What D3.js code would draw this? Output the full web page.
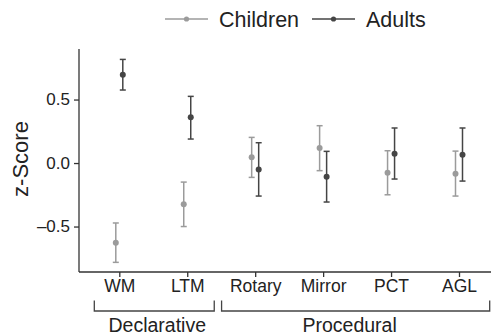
<!DOCTYPE html>
<html>
<head>
<meta charset="utf-8">
<script src="https://cdn.jsdelivr.net/npm/d3@7"></script>
<style>
  body { margin: 0; background: #fff; }
  text { font-family: "Liberation Sans", Arial, sans-serif; fill: #222; }
</style>
</head>
<body>
<svg id="chart" width="491" height="335"></svg>
<script>
// tasks along x
const tasks = ['WM', 'LTM', 'Rotary', 'Mirror', 'PCT', 'AGL'];
// mean z-scores and error bar ends
const childMean = [-0.628, -0.325, 0.045, 0.118, -0.076, -0.084];
const childHigh = [-0.472, -0.150, 0.202, 0.294, 0.097, 0.094];
const childLow  = [-0.782, -0.500, -0.113, -0.060, -0.250, -0.260];
const adultMean = [0.695, 0.360, -0.050, -0.108, 0.073, 0.065];
const adultHigh = [0.816, 0.525, 0.160, 0.092, 0.276, 0.276];
const adultLow  = [0.575, 0.189, -0.260, -0.307, -0.126, -0.142];
const yTicks = [-0.5, 0, 0.5];
const groups = [
  { name: 'Declarative', from: 'WM', to: 'LTM' },
  { name: 'Procedural', from: 'Rotary', to: 'AGL' }
];

const series = [
  { name: 'Children', color: '#9b9b9b', dx: -3.5, mean: childMean, hi: childHigh, lo: childLow },
  { name: 'Adults', color: '#454545', dx: 3.5, mean: adultMean, hi: adultHigh, lo: adultLow }
];

const svg = d3.select('#chart');
const plotLeft = 79, plotTop = 49, plotBottom = 272;

const x = d3.scalePoint().domain(tasks).range([119.3, 459]);
const y = d3.scaleLinear().domain([-0.858, 0.898]).range([plotBottom, plotTop]);

// y axis
const yAxis = svg.append('g')
  .attr('transform', 'translate(' + plotLeft + ',0)')
  .call(d3.axisLeft(y).tickValues(yTicks).tickSize(5).tickPadding(4)
    .tickFormat(d => d3.format('.1f')(d).replace('-', '\u2013').replace('\u2212', '\u2013')));
yAxis.select('.domain').remove();
yAxis.append('line').attr('x1', 0).attr('x2', 0).attr('y1', plotTop).attr('y2', plotBottom);
yAxis.selectAll('line').attr('stroke', '#333').attr('stroke-width', 1.3);
yAxis.selectAll('text').attr('font-size', 17).attr('fill', '#222')
  .style('font-family', '"Liberation Sans", Arial, sans-serif');

// x axis
const xAxis = svg.append('g')
  .attr('transform', 'translate(0,' + plotBottom + ')')
  .call(d3.axisBottom(x).tickSize(5).tickPadding(3));
xAxis.select('.domain').remove();
xAxis.append('line').attr('x1', plotLeft).attr('x2', 495).attr('y1', 0).attr('y2', 0);
xAxis.selectAll('line').attr('stroke', '#333').attr('stroke-width', 1.3);
xAxis.selectAll('text').attr('font-size', 17.5).attr('fill', '#222')
  .style('font-family', '"Liberation Sans", Arial, sans-serif');

// y title
svg.append('text')
  .attr('transform', 'translate(28,159) rotate(-90)')
  .attr('text-anchor', 'middle')
  .attr('font-size', 22)
  .text('z-Score');

// group brackets
const pad = { Declarative: [25, 27], Procedural: [33.6, 30.7] };
groups.forEach(g => {
  const x0 = x(g.from) - pad[g.name][0];
  const x1 = x(g.to) + pad[g.name][1];
  svg.append('path')
    .attr('d', 'M' + x0 + ',300.5V311H' + x1 + 'V300.5')
    .attr('fill', 'none').attr('stroke', '#444').attr('stroke-width', 1.3);
  svg.append('text')
    .attr('x', (x0 + x1) / 2 + (g.name === 'Declarative' ? 3 : -6))
    .attr('y', 332)
    .attr('text-anchor', 'middle')
    .attr('font-size', 19.5)
    .text(g.name);
});

// error bars and points
series.forEach(s => {
  const gs = svg.append('g');
  tasks.forEach((t, i) => {
    const cx = x(t) + s.dx;
    gs.append('line').attr('x1', cx).attr('x2', cx)
      .attr('y1', y(s.hi[i])).attr('y2', y(s.lo[i]))
      .attr('stroke', s.color).attr('stroke-width', 1.5);
    [s.hi[i], s.lo[i]].forEach(v => {
      gs.append('line').attr('x1', cx - 3).attr('x2', cx + 3)
        .attr('y1', y(v)).attr('y2', y(v))
        .attr('stroke', s.color).attr('stroke-width', 1.5);
    });
    gs.append('circle').attr('cx', cx).attr('cy', y(s.mean[i])).attr('r', 3)
      .attr('fill', s.color);
  });
});

// legend
const legendX = [165, 312];
series.forEach((s, i) => {
  const lg = svg.append('g').attr('transform', 'translate(' + legendX[i] + ',19)');
  lg.append('line').attr('x1', 0).attr('x2', 43).attr('y1', 0).attr('y2', 0)
    .attr('stroke', s.color).attr('stroke-width', 1.5);
  lg.append('circle').attr('cx', 21.5).attr('cy', 0).attr('r', 2.6).attr('fill', s.color);
  lg.append('text').attr('x', 54).attr('y', 7.5).attr('font-size', 21.5).text(s.name);
});
</script>
</body>
</html>
